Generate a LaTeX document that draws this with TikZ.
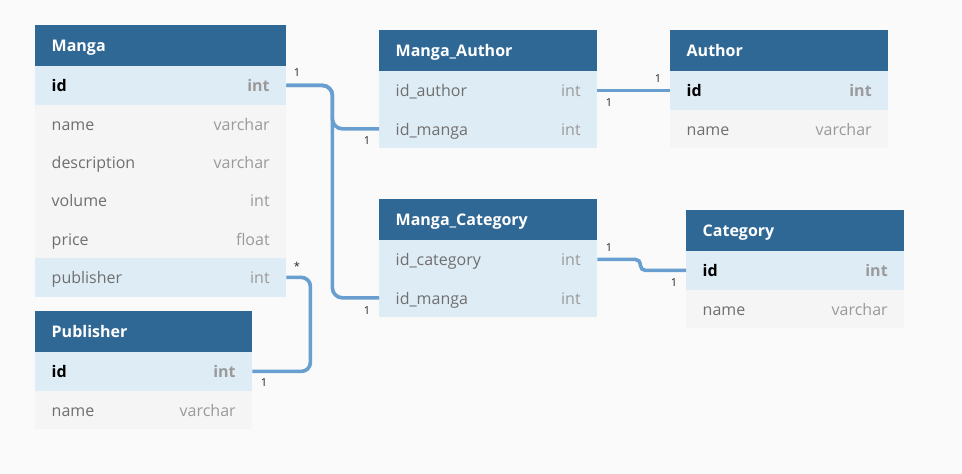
\documentclass[tikz,border=0pt]{standalone}
\usepackage{fontspec}
\setmainfont{Open Sans}
\definecolor{bgcol}{HTML}{FAFAFA}
\definecolor{hdrblue}{HTML}{306895}
\definecolor{keyblue}{HTML}{DEECF5}
\definecolor{rowgray}{HTML}{F5F5F5}
\definecolor{namegray}{HTML}{6F6F6F}
\definecolor{typegray}{HTML}{9A9A9A}
\definecolor{conncol}{HTML}{689FD0}
\definecolor{cardcol}{HTML}{222222}
\newcommand{\fld}[2]{#1\hfill{\color{typegray}#2}}
\newcommand{\kfld}[2]{{\bfseries\color{black}#1}\hfill{\bfseries\color{typegray}#2}}
\begin{document}
\begin{tikzpicture}[x=1pt,y=-1pt,
  tblhdr/.style={anchor=north west, fill=hdrblue, text=white,
    font=\bfseries\fontsize{16}{19}\selectfont, minimum height=41pt,
    text height=16pt, text depth=3.5pt,
    inner xsep=16.5pt, inner ysep=0pt, align=left},
  tblrow/.style={anchor=north west, fill=rowgray, text=namegray,
    font=\fontsize{16}{19}\selectfont, minimum height=38.4pt,
    text height=16pt, text depth=3.5pt,
    inner xsep=16.5pt, inner ysep=0pt, align=left},
  keyrow/.style={tblrow, fill=keyblue},
  wide/.style={text width=218pt},
  std/.style={text width=185pt},
  narrow/.style={text width=184pt},
  conn/.style={draw=conncol, line width=3.6pt, rounded corners=10pt},
  card/.style={text=cardcol, font=\fontsize{11}{13}\selectfont, inner sep=0pt}
]
\fill[bgcol] (0,0) rectangle (962,474);
\useasboundingbox (0,0) rectangle (962,474);

% Manga
\node[tblhdr, wide] (manga) at (35,25) {Manga};
\node[keyrow, wide] (manga-id) at (35,66) {\kfld{id}{int}};
\node[tblrow, wide] (manga-name) at (35,104.4) {\fld{name}{varchar}};
\node[tblrow, wide] (manga-desc) at (35,142.8) {\fld{description}{varchar}};
\node[tblrow, wide] (manga-vol) at (35,181.2) {\fld{volume}{int}};
\node[tblrow, wide] (manga-price) at (35,219.6) {\fld{price}{float}};
\node[keyrow, wide] (manga-pub) at (35,258) {\fld{publisher}{int}};

% Publisher
\node[tblhdr, narrow] (pub) at (35,311) {Publisher};
\node[keyrow, narrow] (pub-id) at (35,352) {\kfld{id}{int}};
\node[tblrow, narrow] (pub-name) at (35,390.4) {\fld{name}{varchar}};

% Manga_Author
\node[tblhdr, std] (ma) at (379,30) {Manga\_Author};
\node[keyrow, std] (ma-author) at (379,71) {\fld{id\_author}{int}};
\node[keyrow, std] (ma-manga) at (379,109.4) {\fld{id\_manga}{int}};

% Author
\node[tblhdr, std] (author) at (670,30) {Author};
\node[keyrow, std] (author-id) at (670,71) {\kfld{id}{int}};
\node[tblrow, std] (author-name) at (670,109.4) {\fld{name}{varchar}};

% Manga_Category
\node[tblhdr, std] (mc) at (379,199) {Manga\_Category};
\node[keyrow, std] (mc-cat) at (379,240) {\fld{id\_category}{int}};
\node[keyrow, std] (mc-manga) at (379,278.4) {\fld{id\_manga}{int}};

% Category
\node[tblhdr, std] (cat) at (686,210) {Category};
\node[keyrow, std] (cat-id) at (686,251) {\kfld{id}{int}};
\node[tblrow, std] (cat-name) at (686,289.4) {\fld{name}{varchar}};

% connectors
\draw[conn] (manga-id.east) -- ++(46,0) |- (ma-manga.west);
\draw[conn] (manga-id.east) -- ++(46,0) |- (mc-manga.west);
\draw[conn, rounded corners=9pt] (manga-pub.east) -- ++(24,0) |- (pub-id.east);
\draw[conn] (ma-author.east) -- (author-id.west);
\draw[conn, rounded corners=5pt] (mc-cat.east) -- ++(43,0) |- (cat-id.west);

% cardinalities
\node[card] (c1) at (297,73) {1};
\node[card] (c2) at (367,141) {1};
\node[card] (c3) at (367,311) {1};
\node[card] (c4) at (297,266) {*};
\node[card] (c5) at (264,383) {1};
\node[card] (c6) at (609,103) {1};
\node[card] (c7) at (658,79) {1};
\node[card] (c8) at (609,248) {1};
\node[card] (c9) at (674,283) {1};
\end{tikzpicture}
\end{document}
